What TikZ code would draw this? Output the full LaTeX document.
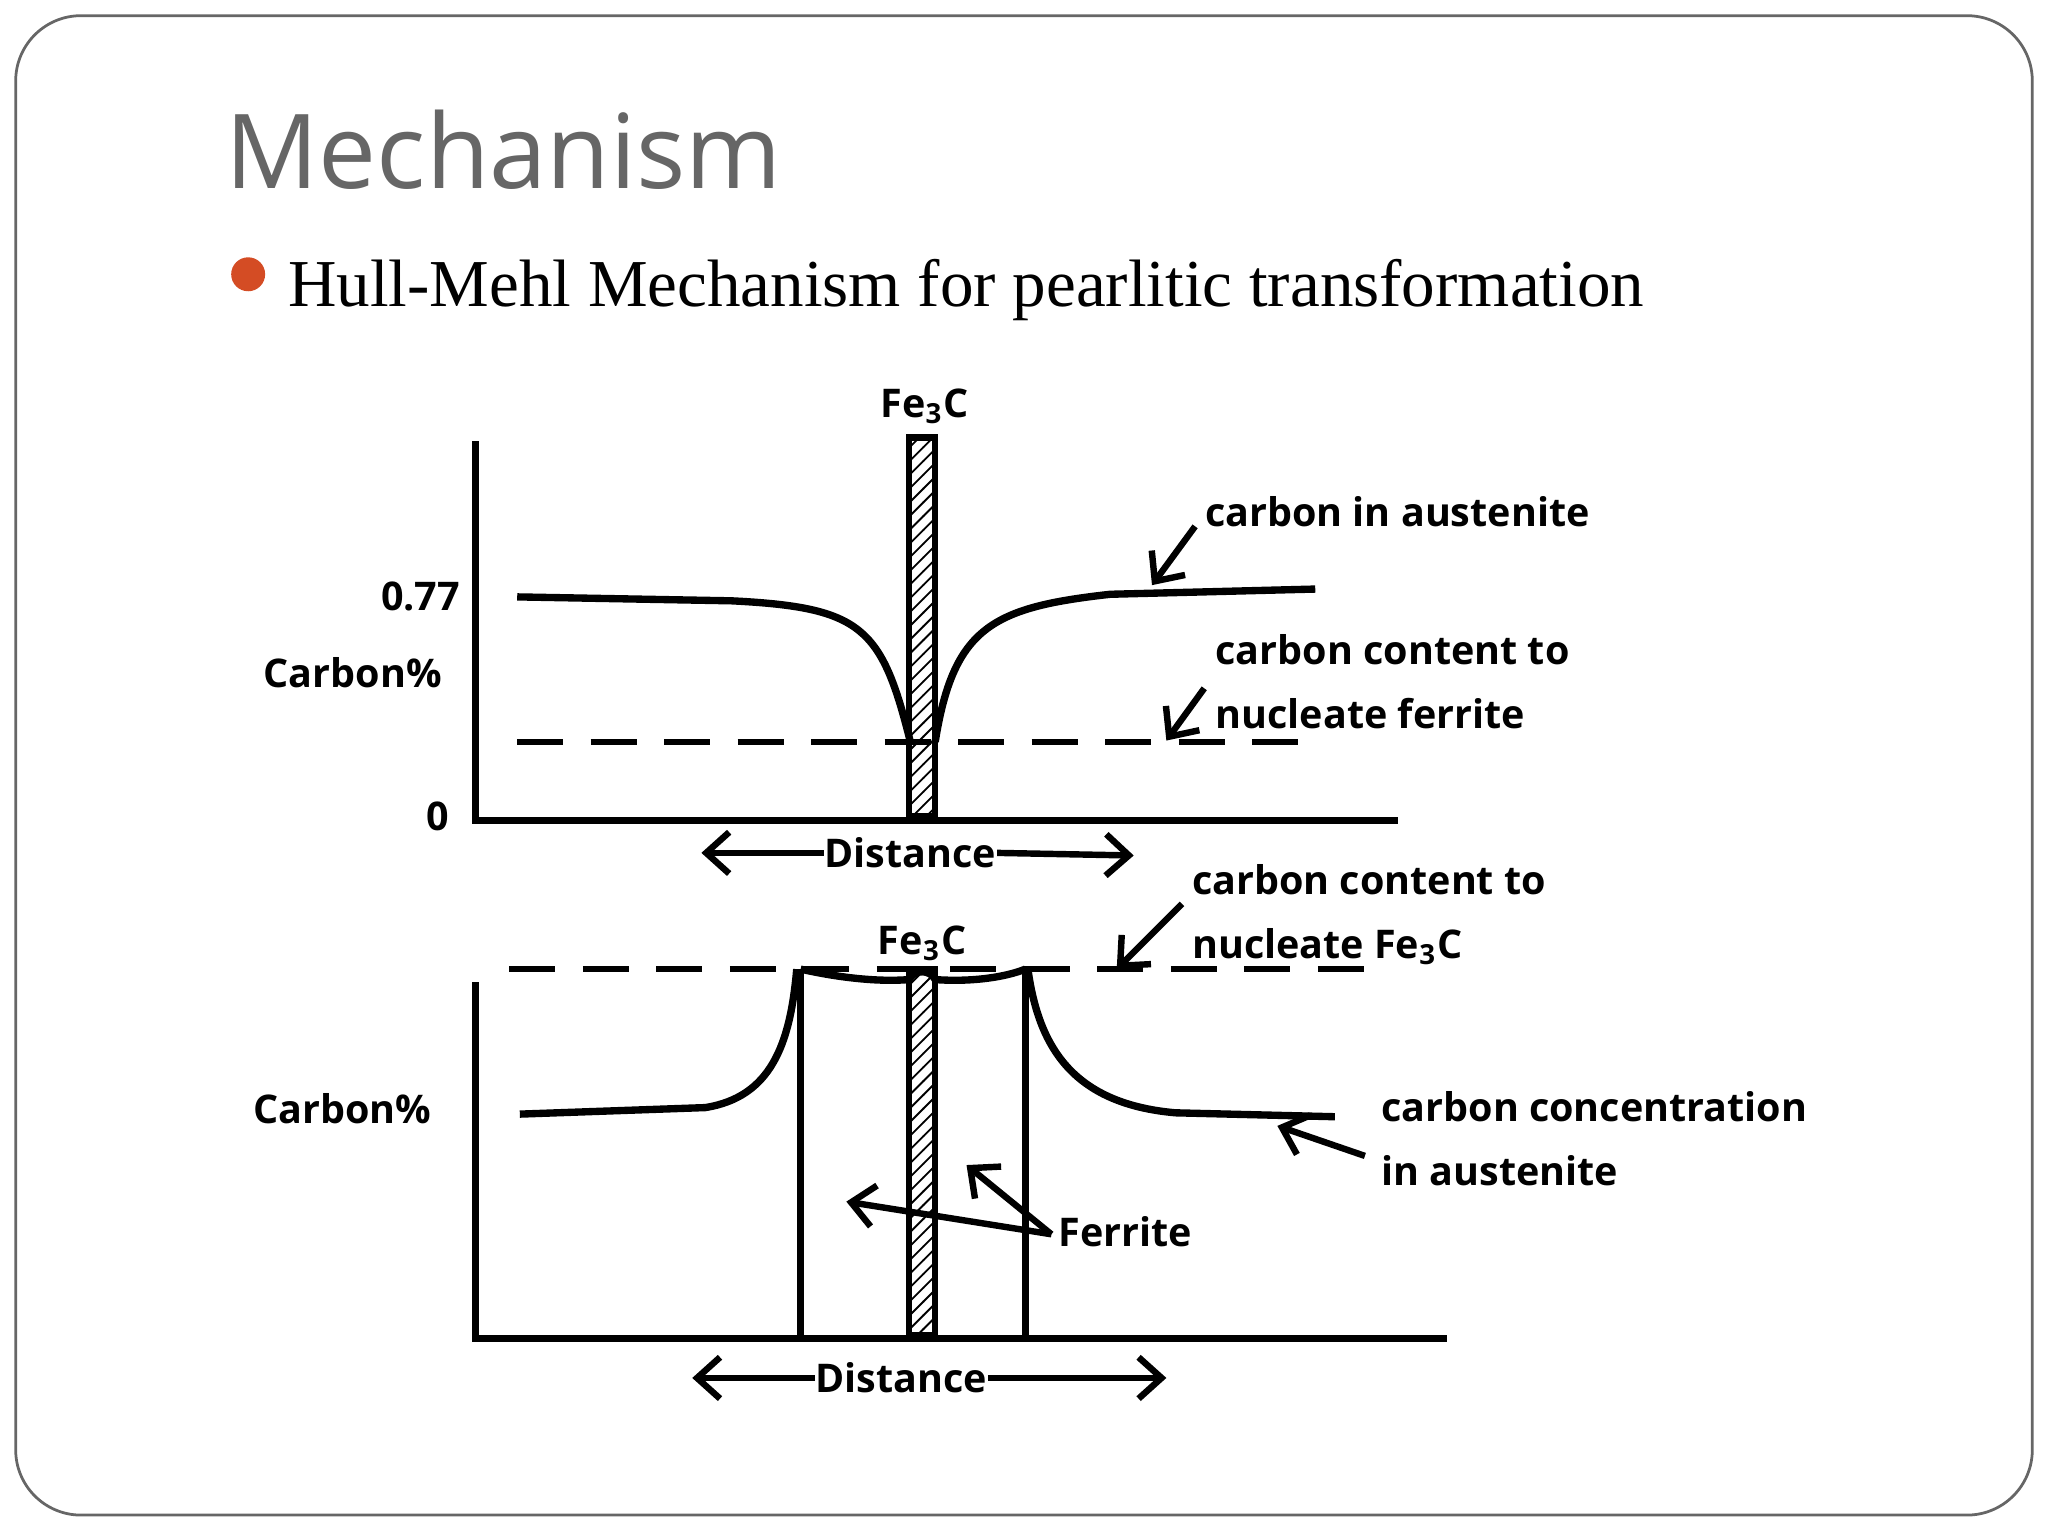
\documentclass[tikz,border=0pt]{standalone}
\usepackage{fontspec}
\setmainfont{Liberation Serif}
\newfontfamily\lab{Open Sans}
\newfontfamily\ttl{Open Sans}
\usetikzlibrary{arrows.meta,patterns}
\definecolor{bul}{RGB}{212,76,36}
\begin{document}
\begin{tikzpicture}[x=0.01cm,y=-0.01cm,
 ln/.style={line width=1.6pt},
 ar/.style={line width=1.4pt,-{Straight Barb[length=5pt,width=9pt]}},
 lb/.style={font=\lab\bfseries\fontsize{8.6}{10}\selectfont,inner sep=0pt},
 dsh/.style={line width=1.4pt,dash pattern=on 10pt off 6pt},
 bar/.style={draw,line width=1.4pt,pattern=north east lines}]
\useasboundingbox (0,0) rectangle (1568,1176);
\fill[white] (0,0) rectangle (1568,1176);
\draw[gray!80!black,line width=0.6pt,rounded corners=0.5cm] (12,12) rectangle (1556,1160);
\node[anchor=west,inner sep=0,text=black!60,font=\ttl\fontsize{22.5}{26}\selectfont] (title) at (172,115) {Mechanism};
\fill[bul] (190,210) circle (13);
\node[anchor=west,inner sep=0,font=\fontsize{14.6}{16}\selectfont] (sub) at (220,222) {Hull-Mehl Mechanism for pearlitic transformation};
% top plot
\draw[ln] (364,338) -- (364,628) -- (1070,628);
\node[bar,minimum width=0.2cm,minimum height=2.9cm,inner sep=0] (b1) at (706,480) {};
\node[lb] (f1) at (708,311) {Fe\textsubscript{3}C};
\node[lb] at (322,457) {0.77};
\node[lb] at (270,515) {Carbon\%};
\node[lb] at (335,625) {0};
\draw[dsh] (396,568) -- (1007,568);
\draw[ln] (396,457) -- (560,460) .. controls (660,465) and (675,480) .. (697,568);
\draw[ln] (716,568) .. controls (730,480) and (760,465) .. (850,455) -- (1007,451);
\node[lb,anchor=west] (t1) at (922,392) {carbon in austenite};
\coordinate (t1e) at (882,448);
\draw[ar] (915,403) -- (t1e);
\node[lb,anchor=west,align=left] (t2) at (930,522) {carbon content to\\[4pt]nucleate ferrite};
\coordinate (t2e) at (893,567);
\draw[ar] (922,527) -- (t2e);
\node[lb] (d1) at (697,653) {Distance};
\coordinate (d1l) at (537,653); \coordinate (d1r) at (868,655);
\draw[ar] (d1.west) -- (d1l);
\draw[ar] (d1.east) -- (d1r);
% bottom plot
\draw[ln] (364,752) -- (364,1025) -- (1108,1025);
\draw[dsh] (390,742) -- (1058,742);
\node[bar,minimum width=0.2cm,minimum height=2.8cm,inner sep=0] (b2) at (706,882) {};
\node[lb] (f2) at (706,722) {Fe\textsubscript{3}C};
\draw[ln] (613,742) -- (613,1022);
\draw[ln] (785,742) -- (785,1022);
\draw[ln] (398,853) -- (540,848) .. controls (590,840) and (605,800) .. (610,742);
\draw[ln] (613,742) .. controls (640,748) and (670,752) .. (696,750) .. controls (700,742) and (712,742) .. (716,750) .. controls (745,752) and (770,748) .. (785,742);
\draw[ln] (787,742) .. controls (795,800) and (820,845) .. (900,852) -- (1022,855);
\node[lb] at (262,849) {Carbon\%};
\node[lb,anchor=west,align=left] (t3) at (912,700) {carbon content to\\[4pt]nucleate Fe\textsubscript{3}C};
\coordinate (t3e) at (855,742);
\draw[ar] (905,692) -- (t3e);
\node[lb,anchor=west,align=left] (t4) at (1057,872) {carbon concentration\\[4pt]in austenite};
\coordinate (t4e) at (978,862);
\draw[ar] (1045,885) -- (t4e);
\node[lb,anchor=west] (fe) at (810,943) {Ferrite};
\coordinate (fa) at (740,892); \coordinate (fb) at (648,920);
\draw[ar] (805,945) -- (fa);
\draw[ar] (805,945) -- (fb);
\node[lb] (d2) at (690,1055) {Distance};
\coordinate (d2l) at (530,1055); \coordinate (d2r) at (893,1055);
\draw[ar] (d2.west) -- (d2l);
\draw[ar] (d2.east) -- (d2r);
\end{tikzpicture}
\end{document}
